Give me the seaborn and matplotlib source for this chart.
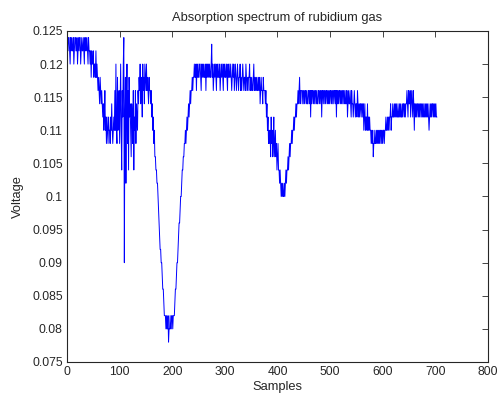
import numpy as np
import seaborn as sns
import matplotlib.pyplot as plt

# Voltage readings in mV
seg_start = [124, 122, 124, 124, 122, 120, 124, 122, 124, 122, 122, 124, 120, 122, 124, 124, 122, 122, 124, 120,
             122, 124, 122, 124, 124, 120, 122, 124, 122, 122, 124, 122, 120, 124, 122, 124, 122, 124, 122, 120,
             124, 122]
seg_drop = [122, 120, 122, 118, 122, 120, 120, 122, 118, 120, 120, 118, 122, 118, 120,
            118, 116, 118, 116, 114, 118, 116, 114, 116,
            114, 112, 114, 110, 112, 116, 110, 112, 108, 112]
seg_noisy = [110, 108, 112, 110, 110, 108, 112, 110, 114, 110, 108, 110, 112, 110, 116, 110, 120, 110, 108, 118, 110,
             112, 116, 108, 114, 120, 110, 104, 116, 112, 120, 124, 90, 112, 118, 102, 114, 120, 108, 116, 104, 118, 112, 114,
             110, 106, 114, 112, 108, 116, 104, 112, 110, 116, 108, 114, 112, 110, 116,
             114, 118, 116, 120, 114, 118, 116, 112, 120, 116, 118, 114, 120, 118, 116, 120, 116, 118, 116, 114, 118, 116, 116,
             114, 116, 112, 114, 110, 112, 108, 110, 106]
seg_dip1 = [106, 104, 104, 102, 102, 100, 98, 96, 94, 92, 92, 90, 90, 88, 86, 86, 84, 82, 82, 82,
            80, 82, 80, 80, 82, 78, 80, 80, 82, 80, 80, 82, 82, 80, 82, 82, 82,
            84, 86, 86, 88, 90, 90, 92, 94, 96, 96, 98, 100, 100, 102, 104, 104, 106, 106, 108, 108,
            110, 108, 110, 112, 110, 112, 114, 112, 114, 116, 114, 116, 116, 118, 116, 118]
seg_plateau1 = [118, 120, 118, 118, 120, 116, 120, 118, 120, 118, 118, 120, 120, 118, 116, 120, 118, 120, 118, 120,
                118, 118, 120, 116, 120, 118, 120, 118, 120, 118, 120, 118, 118, 120, 123, 118, 120, 116, 118, 120,
                118, 120, 118, 116, 120, 118, 120, 118, 118, 120, 116, 118, 120, 118, 120, 118, 116, 120, 118, 120,
                118, 118, 120, 118, 116, 120, 118, 120, 118, 118, 120, 118, 116, 118, 120, 118, 120, 116, 118, 120,
                118, 116, 118, 120, 118, 116, 118, 118, 120, 116, 118, 116, 118, 120, 118, 116, 118, 118, 116, 120,
                118, 116, 118, 116, 118, 118, 120, 116, 118, 116, 118, 116, 116, 118, 120, 116, 118, 116, 118, 116,
                118, 116, 116, 118, 116, 118, 114, 116, 118, 116, 116, 114, 118, 116, 116]
seg_dip2 = [116, 114, 116, 112, 114, 110, 112, 108, 110, 108,
            110, 106, 112, 108, 110, 106, 108, 112, 106, 108, 110, 106, 108, 104, 106, 108, 104,
            104, 102, 104, 102, 100, 102, 100, 102, 100, 100, 102, 100, 102, 104, 102, 104,
            104, 106, 104, 106, 108, 106, 108, 108, 110, 108, 110, 110, 112, 110, 112, 112, 114, 112, 114, 114,
            116, 114, 116, 118, 114, 116, 116]
seg_plateau2 = [116, 114, 116, 116, 114, 116, 114, 116, 116, 114, 116, 114, 114, 116, 116, 114, 116, 112, 116, 114,
                116, 116, 114, 116, 114, 116, 116, 114, 116, 114, 114, 116, 116, 114, 116, 114, 116, 116, 112, 116,
                116, 114, 116, 116, 114, 116, 114, 116, 116, 114, 116, 114, 116, 114, 116, 116, 114, 116, 114, 116,
                116, 114, 116, 116, 114, 116, 112, 116, 114, 116, 114, 116, 116, 114, 116, 114, 116, 114, 116, 116,
                114, 116, 114, 114, 116, 114, 116, 112, 114, 116, 114, 114, 116, 114, 112, 116, 114, 114, 112, 114,
                116, 114, 112, 114, 114, 112, 116, 114, 112, 114, 112, 114, 114, 112, 114]
seg_dip3 = [114, 112, 114, 110, 112, 114, 110, 112, 112, 110, 114, 110, 112, 110, 112, 110,
            110, 108, 110, 108, 110, 106, 108, 108, 110, 108, 108, 110, 108, 110, 108, 110, 108, 110, 108, 110,
            110, 108, 110, 108, 110, 110, 108, 110, 110, 112, 110, 110,
            112, 110, 112, 110, 112, 112, 114, 110, 112, 112, 114, 112, 112, 114, 112, 114, 112, 114, 112]
seg_end = [112, 114, 112, 112, 114, 112, 114, 112, 112, 114, 112, 114, 114, 112, 114, 112, 114, 114,
           116, 114, 112, 116, 114, 114, 116, 112, 114, 116, 114, 112, 116, 114, 110, 114, 112,
           114, 112, 114, 114, 112, 114, 112, 114, 112, 114, 114, 112, 114, 112, 114, 112, 112, 114, 112, 114,
           112, 114, 112, 114, 112, 110, 112, 114, 112, 114, 112, 114, 114, 112, 114, 112, 114, 112, 114, 112, 112]

voltage_mv = (seg_start + seg_drop + seg_noisy + seg_dip1 + seg_plateau1
              + seg_dip2 + seg_plateau2 + seg_dip3 + seg_end)
voltage = np.array(voltage_mv) / 1000.0
samples = np.arange(1, len(voltage) + 1)

x_ticks = list(range(0, 801, 100))
y_ticks = [0.075, 0.08, 0.085, 0.09, 0.095, 0.1, 0.105, 0.11, 0.115, 0.12, 0.125]

sns.set_style("white")
plt.rcParams['font.family'] = ['Liberation Sans', 'DejaVu Sans']
ink = '#262626'

fig = plt.figure(figsize=(4.98, 3.96), dpi=100)
ax = fig.add_axes([0.1345, 0.0859, 0.8454, 0.8359])
sns.lineplot(x=samples, y=voltage, ax=ax, color='#0000ff', linewidth=0.7, estimator=None)

ax.set_xlim(0, 800)
ax.set_ylim(0.075, 0.125)
ax.set_xticks(x_ticks)
ax.set_xticklabels([str(t) for t in x_ticks])
ax.set_yticks(y_ticks)
ax.set_yticklabels([f"{t:g}" for t in y_ticks])
ax.tick_params(direction='in', top=True, right=True, length=4, width=0.6,
               labelsize=8.7, colors=ink, pad=3)
for sp in ax.spines.values():
    sp.set_color(ink)
    sp.set_linewidth(0.8)

ax.set_title("Absorption spectrum of rubidium gas", fontsize=9.3, color=ink, pad=7)
ax.set_xlabel("Samples", fontsize=9.3, color=ink, labelpad=2)
ax.set_ylabel("Voltage", fontsize=9.3, color=ink, labelpad=6)

fig.savefig("out.png", dpi=100)
